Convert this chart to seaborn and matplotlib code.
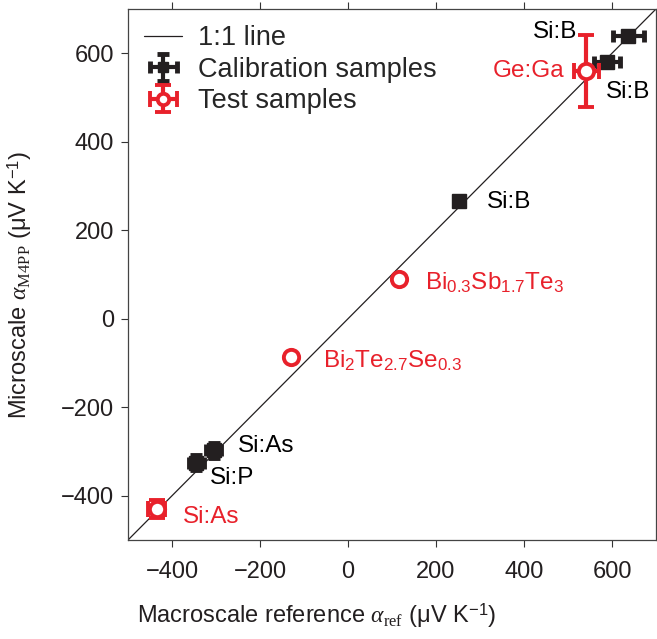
import numpy as np
import pandas as pd
import matplotlib
matplotlib.use("Agg")
import matplotlib.pyplot as plt
import seaborn as sns

# calibration samples (black squares)
cal_labels = ["Si:B", "Si:B", "Si:B", "Si:As", "Si:P"]
cal_ref = [637, 588, 252, -305, -345]
cal_m4pp = [640, 580, 267, -297, -325]
cal_xerr = [35, 30, 4, 17, 17]
cal_yerr = [10, 10, 4, 17, 17]

# test samples (red open circles)
test_labels = ["Ge:Ga", r"Bi$_{\mathsf{0.3}}$Sb$_{\mathsf{1.7}}$Te$_{\mathsf{3}}$",
               r"Bi$_{\mathsf{2}}$Te$_{\mathsf{2.7}}$Se$_{\mathsf{0.3}}$", "Si:As"]
test_ref = [542, 116, -129, -435]
test_m4pp = [560, 90, -87, -430]
test_xerr = [28, 0, 0, 20]
test_yerr = [82, 0, 0, 20]

# label offsets in data units (dx, dy)
cal_offsets = [(-217, 8), (-2, -68), (64, -3), (55, 9), (31, -35)]
test_offsets = [(-212, 0), (59, -9), (72, -9), (60, -18)]

RED = "#E8212B"
BLACK = "#231F20"

sns.set_style("ticks")
plt.rcParams["font.family"] = ["Liberation Sans", "DejaVu Sans"]
plt.rcParams["mathtext.fontset"] = "custom"
plt.rcParams["mathtext.rm"] = "Liberation Serif"
plt.rcParams["mathtext.it"] = "Liberation Serif:italic"
plt.rcParams["mathtext.sf"] = "Liberation Sans"

fig = plt.figure(figsize=(6.57, 6.39), dpi=100)
ax = fig.add_axes([128 / 657, 1 - 540 / 639, 528 / 657, 531 / 639])

line_df = pd.DataFrame({"x": [-500, 700], "y": [-500, 700]})
sns.lineplot(data=line_df, x="x", y="y", color=BLACK, lw=0.9, ax=ax,
             label="1:1 line", zorder=1)

ax.errorbar(cal_ref, cal_m4pp, xerr=cal_xerr, yerr=cal_yerr, fmt="s",
            color=BLACK, ms=10, elinewidth=3, capsize=4, capthick=3.5,
            label="Calibration samples", zorder=3)
ax.errorbar(test_ref, test_m4pp, xerr=test_xerr, yerr=test_yerr, fmt="o",
            color=RED, mfc="white", mec=RED, mew=2.8, ms=11, elinewidth=3,
            capsize=6, capthick=3.5, label="Test samples", zorder=4)

for lab, x, y, (dx, dy) in zip(cal_labels, cal_ref, cal_m4pp, cal_offsets):
    ax.text(x + dx, y + dy, lab, color="black", fontsize=17.5,
            ha="left", va="center")
for lab, x, y, (dx, dy) in zip(test_labels, test_ref, test_m4pp, test_offsets):
    ax.text(x + dx, y + dy, lab, color=RED, fontsize=17.5,
            ha="left", va="center")

ax.set_xlim(-500, 700)
ax.set_ylim(-500, 700)
ax.set_xticks([-400, -200, 0, 200, 400, 600])
ax.set_yticks([-400, -200, 0, 200, 400, 600])
ax.tick_params(axis="both", direction="out", length=5, width=0.8,
               labelsize=17, colors="#333333", labelcolor=BLACK,
               top=True, right=True)
ax.tick_params(axis="x", pad=10)
ax.tick_params(axis="y", pad=5)
for s in ax.spines.values():
    s.set_linewidth(0.9)
    s.set_color("#444444")

ax.set_xlabel(r"Macroscale reference $\alpha_{\rm ref}$ (μV K$^{\mathsf{−1}}$)",
              fontsize=17, color=BLACK)
ax.set_ylabel(r"Microscale $\alpha_{\rm M4PP}$ (μV K$^{\mathsf{−1}}$)",
              fontsize=17, color=BLACK)
ax.xaxis.set_label_coords(0.358, -0.115)
ax.yaxis.set_label_coords(-0.178, 0.48)

leg = ax.legend(loc="upper left", frameon=False, fontsize=19.5,
                handlelength=1.4, handletextpad=0.6, labelspacing=0.2,
                borderaxespad=0.3, borderpad=0.3, markerscale=0.75)
for h in leg.legend_handles[1:]:
    for c in h.get_children():
        c.set_linewidth(1.5)

fig.savefig("out.png", dpi=100)
